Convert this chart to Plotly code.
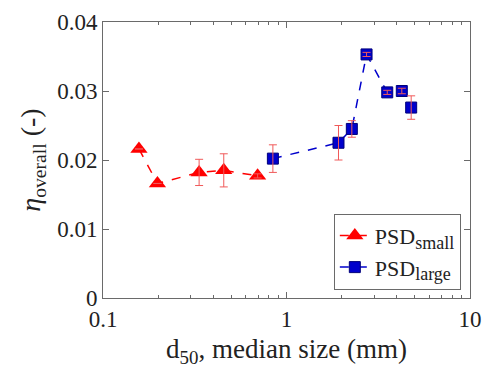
import plotly.graph_objects as go

# Data
d50_small = [0.157, 0.198, 0.334, 0.455, 0.696]
eta_small = [0.0216, 0.0166, 0.0182, 0.0185, 0.0177]
err_small = [0.0, 0.0, 0.0019, 0.0024, 0.0003]

d50_large = [0.843, 1.92, 2.27, 2.73, 3.54, 4.25, 4.78]
eta_large = [0.0202, 0.0225, 0.0245, 0.0353, 0.0298, 0.0300, 0.0276]
err_large = [0.0020, 0.0025, 0.0012, 0.0003, 0.0003, 0.0004, 0.0017]

y_ticks = [0, 0.01, 0.02, 0.03, 0.04]
y_ticklabels = ["0", "0.01", "0.02", "0.03", "0.04"]
x_ticks = [0.1, 1, 10]
x_ticklabels = ["0.1", "1", "10"]

FONT = "Liberation Serif, Times New Roman, serif"
ERRC = "rgb(240,90,90)"
AX = "#6a6a6a"
SUB = '<sub><span style="font-size:18px">%s</span></sub>'

fig = go.Figure()
fig.add_trace(go.Scatter(
    x=d50_small, y=eta_small, mode="lines+markers", name="PSD" + SUB % "small",
    line=dict(color="#ff0000", dash="dash", width=1.5),
    marker=dict(symbol="triangle-up", size=15, color="#ff0000"),
))
fig.add_trace(go.Scatter(
    x=d50_large, y=eta_large, mode="lines+markers", name="PSD" + SUB % "large",
    line=dict(color="#0000cc", dash="dash", width=1.5),
    marker=dict(symbol="square", size=11, color="#0000cc", line=dict(color="#00007a", width=1)),
))
# error bars drawn on top of markers
for xs, ys, es in ((d50_small, eta_small, err_small), (d50_large, eta_large, err_large)):
    fig.add_trace(go.Scatter(
        x=xs, y=ys, mode="markers", showlegend=False, hoverinfo="skip",
        marker=dict(size=1, color="rgba(0,0,0,0)"),
        error_y=dict(type="data", array=es, visible=True, color=ERRC, thickness=1, width=4),
    ))

minor_vals = [m * 10 ** e for e in (-1, 0) for m in range(2, 10)]

fig.update_layout(
    width=484, height=371,
    margin=dict(l=103, r=14, t=22, b=73),
    paper_bgcolor="white", plot_bgcolor="white",
    font=dict(family=FONT, size=22, color="#222"),
    showlegend=True,
    legend=dict(x=0.975, y=0.03, xanchor="right", yanchor="bottom",
                bordercolor=AX, borderwidth=1, bgcolor="white",
                font=dict(family=FONT, size=22, color="#222"),
                itemwidth=30, tracegroupgap=0),
    xaxis=dict(type="log", range=[-1, 1], tickvals=x_ticks, ticktext=x_ticklabels,
               automargin=False,
               ticks="inside", ticklen=6, tickcolor=AX, showline=True, linecolor=AX,
               linewidth=1, mirror="ticks", showgrid=False, zeroline=False,
               minor=dict(tickvals=minor_vals, ticks="inside", ticklen=3, tickcolor=AX, showgrid=False),
               title=dict(text="d<sub>50</sub>, median size (mm)", font=dict(family=FONT, size=27), standoff=8),
               tickfont=dict(family=FONT, size=23)),
    yaxis=dict(range=[0, 0.04], tickvals=y_ticks, ticktext=y_ticklabels,
               automargin=False,
               ticks="inside", ticklen=6, tickcolor=AX, showline=True, linecolor=AX,
               linewidth=1, mirror="ticks", showgrid=False, zeroline=False,
               title=dict(text="<i>η</i><sub>overall</sub> (-)", font=dict(family=FONT, size=28), standoff=8),
               tickfont=dict(family=FONT, size=23)),
)

fig.write_html("out.html")
